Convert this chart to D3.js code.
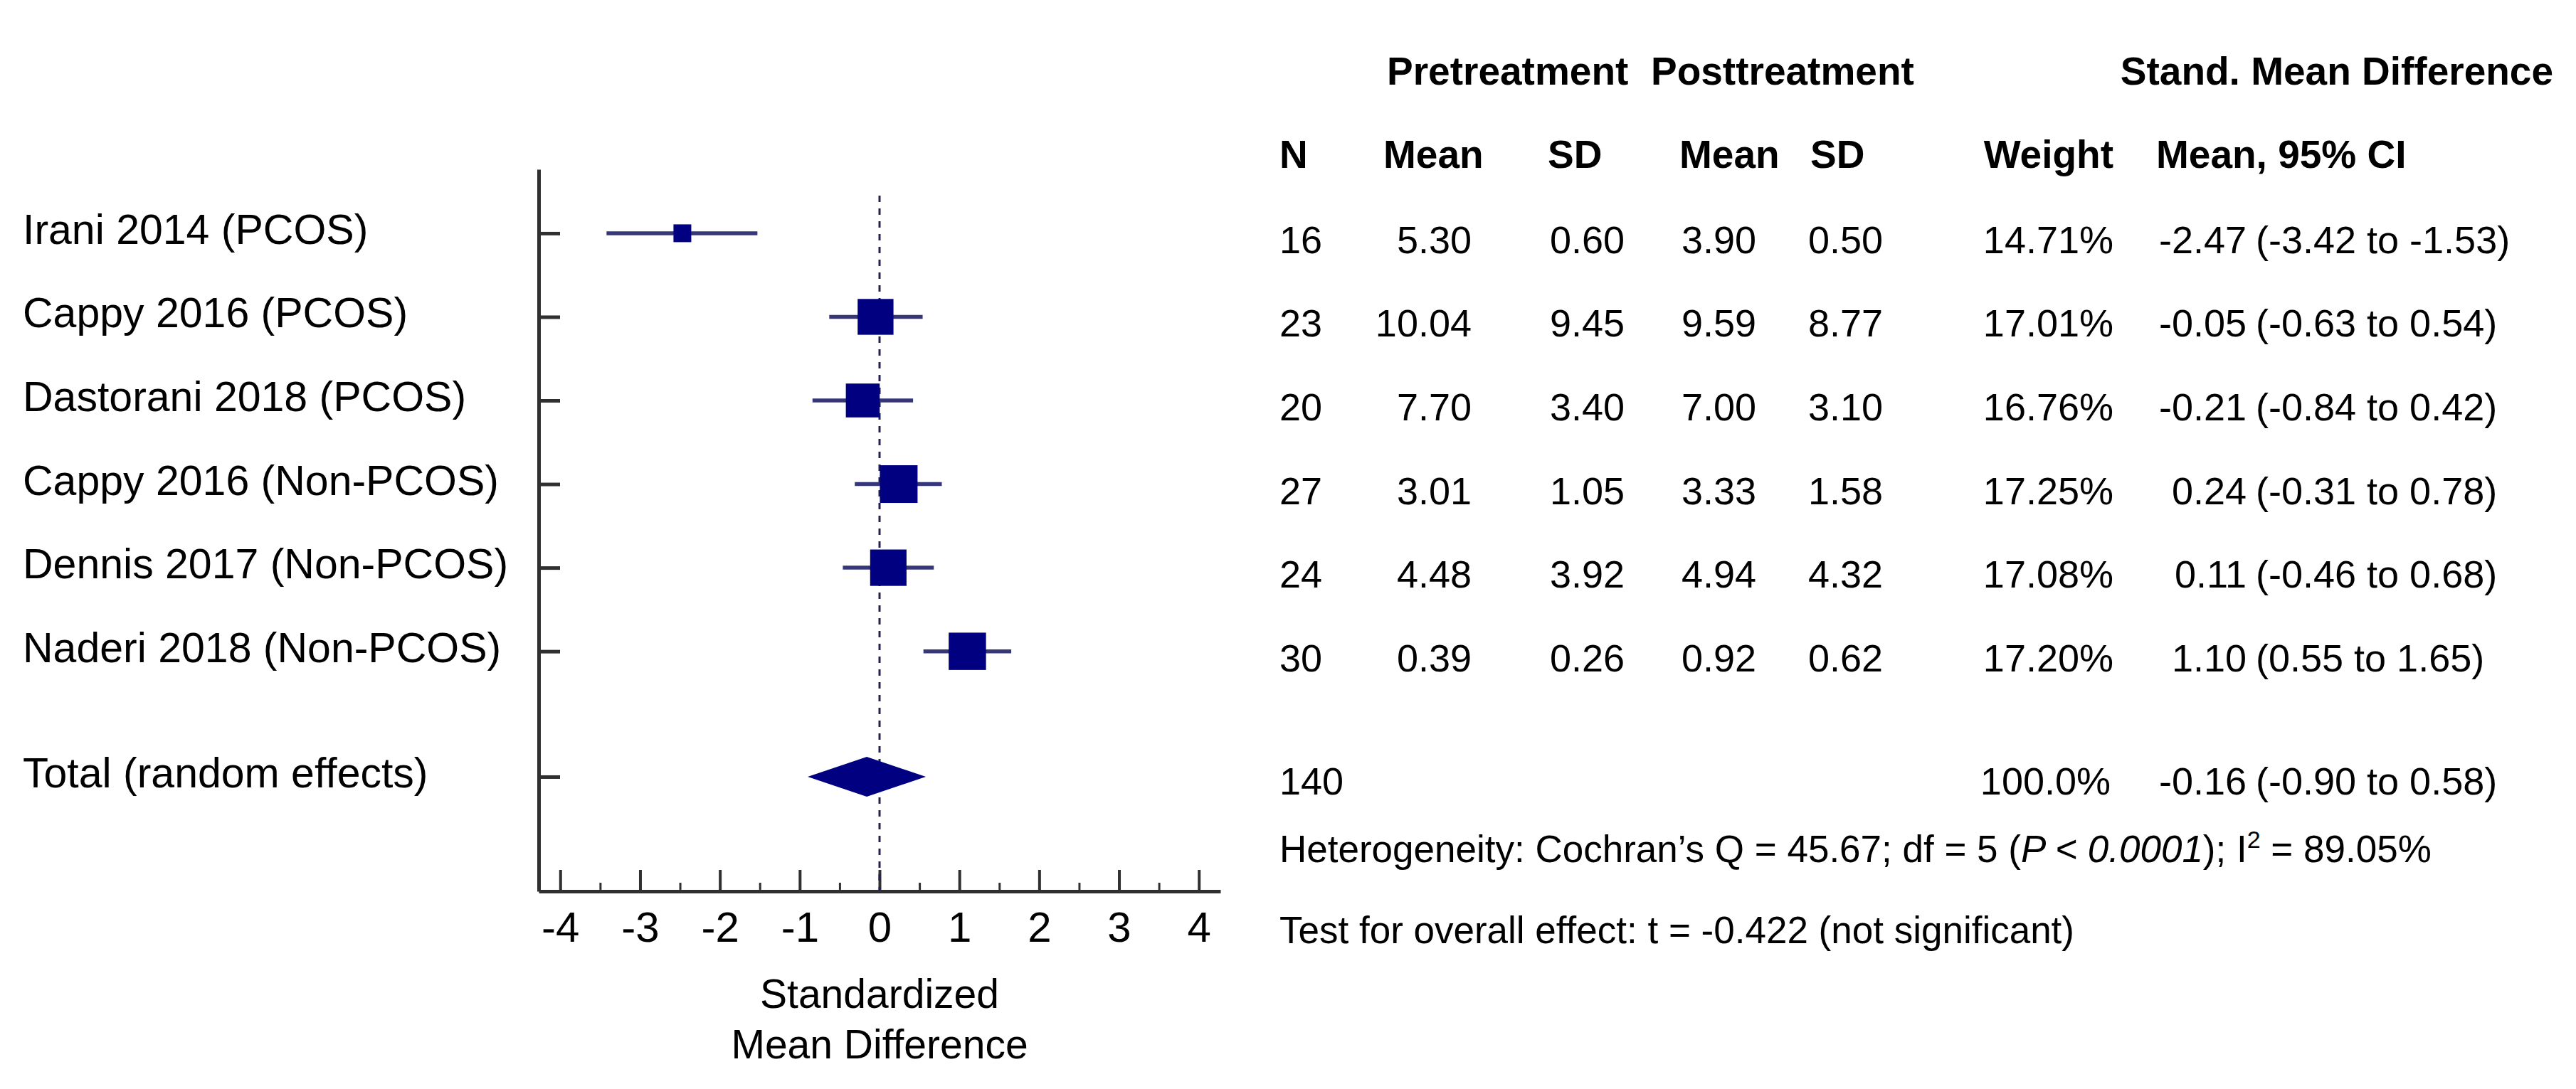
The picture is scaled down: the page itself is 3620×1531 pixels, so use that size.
<!DOCTYPE html>
<html>
<head>
<meta charset="utf-8">
<script src="https://cdn.jsdelivr.net/npm/d3@7"></script>
<style>
  body { margin: 0; background: #fff; }
  text { font-family: "Liberation Sans", Arial, sans-serif; fill: #000; }
</style>
</head>
<body>
<script>
// study data
const studies = ['Irani 2014 (PCOS)', 'Cappy 2016 (PCOS)', 'Dastorani 2018 (PCOS)',
                 'Cappy 2016 (Non-PCOS)', 'Dennis 2017 (Non-PCOS)', 'Naderi 2018 (Non-PCOS)']
const sampleN = [16, 23, 20, 27, 24, 30]
const preMean = [5.30, 10.04, 7.70, 3.01, 4.48, 0.39]
const preSD = [0.60, 9.45, 3.40, 1.05, 3.92, 0.26]
const postMean = [3.90, 9.59, 7.00, 3.33, 4.94, 0.92]
const postSD = [0.50, 8.77, 3.10, 1.58, 4.32, 0.62]
const weights = [14.71, 17.01, 16.76, 17.25, 17.08, 17.20]
const smd = [-2.47, -0.05, -0.21, 0.24, 0.11, 1.10]
const ciLow = [-3.42, -0.63, -0.84, -0.31, -0.46, 0.55]
const ciHigh = [-1.53, 0.54, 0.42, 0.78, 0.68, 1.65]

const totalLabel = 'Total (random effects)'
const totalN = 140
const totalWeight = 100.0
const totalSmd = -0.16
const totalLow = -0.90
const totalHigh = 0.58

const xTicks = [-4, -3, -2, -1, 0, 1, 2, 3, 4]
const xMinorTicks = [-3.5, -2.5, -1.5, -0.5, 0.5, 1.5, 2.5, 3.5]

const width = 3620
const height = 1531
const totalPos = 6.5

const svg = d3.select('body').append('svg')
    .attr('width', width)
    .attr('height', height)

svg.append('rect').attr('width', width).attr('height', height).attr('fill', '#fff')

const x = d3.scaleLinear().domain([-4.27, 4.27]).range([757, 1715])
const y = d3.scaleLinear().domain([-0.765, 7.87]).range([238, 1253])
const size = d3.scaleLinear().domain([14.71, 17.25]).range([25, 53])

const axisColor = '#303030'
const navy = '#000080'
const ciColor = '#36367a'

// left axis with row stubs
const yAxis = svg.append('g')
    .attr('transform', 'translate(757,0)')
    .call(d3.axisRight(y).tickValues([0, 1, 2, 3, 4, 5, totalPos]).tickSize(30).tickSizeOuter(0).tickFormat(''))
yAxis.select('.domain').attr('stroke', axisColor).attr('stroke-width', 5)
yAxis.selectAll('.tick line').attr('stroke', axisColor).attr('stroke-width', 5)

// bottom axis
const xAxis = svg.append('g')
    .attr('transform', `translate(0,${y(7.87)})`)
    .call(d3.axisBottom(x).tickValues(xTicks).tickSizeInner(-30).tickSizeOuter(0).tickPadding(28)
        .tickFormat(d3.format('d')))
xAxis.select('.domain').attr('stroke', axisColor).attr('stroke-width', 5)
xAxis.selectAll('.tick line').attr('stroke', axisColor).attr('stroke-width', 4)
xAxis.selectAll('.tick text')
    .attr('font-family', '"Liberation Sans", Arial, sans-serif')
    .attr('font-size', 60).attr('fill', '#000')
    .text(d => d < 0 ? '-' + Math.abs(d) : d)

const xMinor = svg.append('g')
    .attr('transform', `translate(0,${y(7.87)})`)
    .call(d3.axisBottom(x).tickValues(xMinorTicks).tickSizeInner(-12).tickSizeOuter(0).tickFormat(''))
xMinor.select('.domain').remove()
xMinor.selectAll('.tick line').attr('stroke', axisColor).attr('stroke-width', 3)

// axis title
svg.append('text').attr('x', x(0)).attr('y', 1417).attr('text-anchor', 'middle')
    .attr('font-size', 57).text('Standardized')
svg.append('text').attr('x', x(0)).attr('y', 1488).attr('text-anchor', 'middle')
    .attr('font-size', 57).text('Mean Difference')

// reference line at zero
svg.append('line')
    .attr('x1', x(0)).attr('x2', x(0))
    .attr('y1', y(-0.45)).attr('y2', y(7.87))
    .attr('stroke', '#222250').attr('stroke-width', 3)
    .attr('stroke-dasharray', '9,9')

// confidence intervals
svg.selectAll('line.ci')
    .data(studies)
    .enter()
    .append('line')
    .attr('class', 'ci')
    .attr('x1', (d, i) => x(ciLow[i]))
    .attr('x2', (d, i) => x(ciHigh[i]))
    .attr('y1', (d, i) => y(i))
    .attr('y2', (d, i) => y(i))
    .attr('stroke', ciColor)
    .attr('stroke-width', 5.5)

// weighted squares
svg.selectAll('rect.est')
    .data(studies)
    .enter()
    .append('rect')
    .attr('class', 'est')
    .attr('x', (d, i) => x(smd[i]) - size(weights[i]) / 2)
    .attr('y', (d, i) => y(i) - size(weights[i]) / 2)
    .attr('width', (d, i) => size(weights[i]))
    .attr('height', (d, i) => size(weights[i]))
    .attr('fill', navy)

// pooled diamond
const ty = y(totalPos)
svg.append('path')
    .attr('d', `M${x(totalLow)},${ty} L${x(totalSmd)},${ty - 28} L${x(totalHigh)},${ty} L${x(totalSmd)},${ty + 28} Z`)
    .attr('fill', navy)

// row labels
svg.selectAll('text.label')
    .data(studies.concat([totalLabel]))
    .enter()
    .append('text')
    .attr('class', 'label')
    .attr('x', 32)
    .attr('y', (d, i) => y(i < studies.length ? i : totalPos) + 15)
    .attr('font-size', 59)
    .text(d => d)

// table headers
const head = svg.append('g').attr('font-weight', 'bold').attr('font-size', 55)
head.append('text').attr('x', 1949).attr('y', 119).text('Pretreatment')
head.append('text').attr('x', 2320).attr('y', 119).text('Posttreatment')
head.append('text').attr('x', 3588).attr('y', 119).attr('text-anchor', 'end').text('Stand. Mean Difference')
head.append('text').attr('x', 1798).attr('y', 236).text('N')
head.append('text').attr('x', 1944).attr('y', 236).text('Mean')
head.append('text').attr('x', 2175).attr('y', 236).text('SD')
head.append('text').attr('x', 2360).attr('y', 236).text('Mean')
head.append('text').attr('x', 2544).attr('y', 236).text('SD')
head.append('text').attr('x', 2970).attr('y', 236).attr('text-anchor', 'end').text('Weight')
head.append('text').attr('x', 3030).attr('y', 236).text('Mean, 95% CI')

// table body
const f2 = d3.format('.2f')
const fs = v => (v < 0 ? '-' : '') + f2(Math.abs(v))
const cols = [
    { vals: sampleN, x: 1798, anchor: 'start', fmt: d => d },
    { vals: preMean, x: 2068, anchor: 'end', fmt: f2 },
    { vals: preSD, x: 2283, anchor: 'end', fmt: f2 },
    { vals: postMean, x: 2468, anchor: 'end', fmt: f2 },
    { vals: postSD, x: 2646, anchor: 'end', fmt: f2 },
    { vals: weights, x: 2970, anchor: 'end', fmt: d => f2(d) + '%' },
    { vals: smd, x: 3157, anchor: 'end', fmt: fs }
]
const body = svg.append('g').attr('font-size', 54)
cols.forEach(c => {
    body.selectAll(null)
        .data(c.vals)
        .enter()
        .append('text')
        .attr('x', c.x)
        .attr('y', (d, i) => y(i) + 28)
        .attr('text-anchor', c.anchor)
        .text(c.fmt)
})
body.selectAll(null)
    .data(studies)
    .enter()
    .append('text')
    .attr('x', 3170)
    .attr('y', (d, i) => y(i) + 28)
    .text((d, i) => `(${fs(ciLow[i])} to ${fs(ciHigh[i])})`)

// total row
body.append('text').attr('x', 1798).attr('y', ty + 25).text(totalN)
body.append('text').attr('x', 2966).attr('y', ty + 25).attr('text-anchor', 'end').text(totalWeight.toFixed(1) + '%')
body.append('text').attr('x', 3157).attr('y', ty + 25).attr('text-anchor', 'end').text(fs(totalSmd))
body.append('text').attr('x', 3170).attr('y', ty + 25).text(`(${fs(totalLow)} to ${fs(totalHigh)})`)

// heterogeneity and overall test
const het = svg.append('text').attr('x', 1798).attr('y', 1212).attr('font-size', 53)
het.append('tspan').text('Heterogeneity: Cochran\u2019s Q = 45.67; df = 5 (')
het.append('tspan').attr('font-style', 'italic').text('P < 0.0001')
het.append('tspan').text('); I')
het.append('tspan').attr('font-size', 34).attr('dy', -20).text('2')
het.append('tspan').attr('dy', 20).text(' = 89.05%')

svg.append('text').attr('x', 1798).attr('y', 1326).attr('font-size', 53)
    .text('Test for overall effect: t = -0.422 (not significant)')
</script>
</body>
</html>
